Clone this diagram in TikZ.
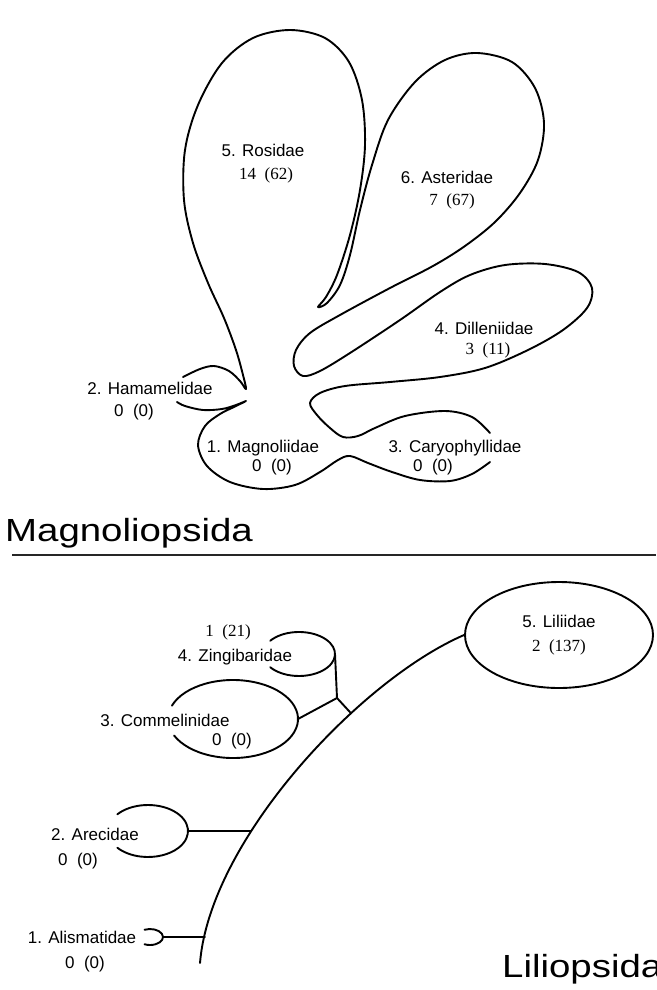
\documentclass[tikz,border=0pt]{standalone}
\usepackage{fontspec}
\setmainfont{Liberation Sans}
\newfontfamily\numfont{Liberation Serif}
\usepackage{graphicx}
\usetikzlibrary{shapes.geometric}
\begin{document}
\begin{tikzpicture}[x=1pt,y=-1pt,
  outline/.style={line width=1.9pt,line join=round,line cap=round},
  taxon/.style={font=\fontsize{17}{20}\selectfont,inner sep=0pt},
  tally/.style={font=\numfont\fontsize{17}{20}\selectfont,inner sep=0pt},
  zerotally/.style={font=\fontsize{17}{20}\selectfont,inner sep=0pt},
  classname/.style={font=\fontsize{32}{36}\selectfont,inner sep=0pt,anchor=base west}]
\useasboundingbox (0,0) rectangle (656,990);
\clip (0,0) rectangle (656,990);

% ---------------- Magnoliopsida ----------------
% Hamamelidae upper edge, Rosidae, Asteridae, Dilleniidae, Caryophyllidae upper edge
\draw[outline] plot[smooth,tension=0.55] coordinates {
  (183,377) (200,369) (214,366) (229,371) (240,381) (246,389)
  (243,375) (236,350) (224,318) (208,283) (193,243) (184,200) (185,150)
  (198,105) (222,63) (253,38) (290,30) (325,38) (349,62) (362,100)
  (365,145) (360,190) (350,235) (337,275) (326,297) (318,307)
  (327,303) (340,285) (350,255) (360,210) (372,165) (388,120) (415,82)
  (445,60) (477,53) (512,62) (535,88) (544,123) (538,160) (520,193)
  (495,222) (465,246) (433,266) (390,288) (340,315) (310,333) (296,350)
  (294,366) (303,376) (320,371) (350,353) (400,320) (440,292) (470,275)
  (505,265) (545,264) (578,272) (592,288) (587,308) (563,330) (528,350)
  (485,368) (440,377) (390,382) (345,386) (320,393) (310,403) (317,415)
  (330,428) (343,437) (358,436) (375,428) (405,416) (445,411) (472,417)
  (490,433)};
% Caryophyllidae lower edge, Magnoliidae, Hamamelidae lower edge
\draw[outline] plot[smooth,tension=0.55] coordinates {
  (490,462) (472,474) (450,481) (420,480) (392,472) (368,463) (350,456)
  (338,460) (320,472) (295,485) (263,489) (230,482) (207,466) (198,445)
  (205,426) (220,414) (234,407) (246,401)
  (236,405) (222,409) (203,410) (185,406) (177,402)};

\node[taxon] (ros) at (263,150) {5. Rosidae};
\node[tally] (rosn) at (266,175) {14\ \ (62)};
\node[taxon] (ast) at (447,177) {6. Asteridae};
\node[tally] (astn) at (452,201) {7\ \ (67)};
\node[taxon] (dil) at (484,328) {4. Dilleniidae};
\node[tally] (diln) at (488,350) {3\ \ (11)};
\node[taxon] (ham) at (150,388) {2. Hamamelidae};
\node[zerotally] (hamn) at (134,412) {0\ \ (0)};
\node[taxon] (mag) at (263,448) {1. Magnoliidae};
\node[zerotally] (magn) at (272,467) {0\ \ (0)};
\node[taxon] (car) at (455,448) {3. Caryophyllidae};
\node[zerotally] (carn) at (433,467) {0\ \ (0)};

\node[classname] (magnoliopsida) at (5,541) {\scalebox{1.2}[1]{Magnoliopsida}};
\draw[line width=1.8pt,black!85] (12,555) coordinate (rulel) -- (656,555) coordinate (ruler);

% ---------------- Liliopsida ----------------
\node[ellipse,draw,line width=1.9pt,minimum width=188pt,minimum height=106pt,
      inner sep=0pt,align=center,font=\fontsize{17}{24}\selectfont] (lil) at (559,635)
  {5. Liliidae\\{\numfont 2\ \ (137)}};

% main stem of the class
\draw[outline] (200,963) .. controls (210,840) and (360,680) .. (lil.west)
  coordinate[pos=0.08] (jA) coordinate[pos=0.337] (jR) coordinate[pos=0.665] (jC);

% subclass loops, open towards their labels
\coordinate (zc) at (299,654);
\draw[outline] (zc) ++(-143:36 and 22) arc[start angle=-143,end angle=143,x radius=36,y radius=22];
\coordinate (zinR) at (335,654);
\coordinate (cc) at (233,719);
\draw[outline] (cc) ++(-160:65 and 39) arc[start angle=-160,end angle=155,x radius=65,y radius=39];
\coordinate (comR) at (298,719);
\coordinate (ac) at (148,831);
\draw[outline] (ac) ++(-140:40 and 26) arc[start angle=-140,end angle=140,x radius=40,y radius=26];
\coordinate (areR) at (188,831);
\coordinate (lc) at (150,937);
\draw[outline] (lc) ++(-115:13 and 8) arc[start angle=-115,end angle=115,x radius=13,y radius=8];
\coordinate (aliR) at (163,937);

% branches
\coordinate (jZ) at (337,698);
\draw[outline] (zinR) -- (jZ) -- (jC);
\draw[outline] (comR) -- (jZ);
\draw[outline] (areR) -- (areR -| jR);
\draw[outline] (aliR) -- (aliR -| jA);

\node[tally] (zinn) at (228,632) {1\ \ (21)};
\node[taxon] (zin) at (235,657) {4. Zingibaridae};
\node[taxon] (com) at (165,720) {3. Commelinidae};
\node[zerotally] (comn) at (232,741) {0\ \ (0)};
\node[taxon] (are) at (95,834) {2. Arecidae};
\node[zerotally] (aren) at (78,861) {0\ \ (0)};
\node[taxon] (ali) at (82,937) {1. Alismatidae};
\node[zerotally] (alin) at (85,964) {0\ \ (0)};

\node[classname] (liliopsida) at (502,977) {\scalebox{1.2}[1]{Liliopsida}};
\end{tikzpicture}
\end{document}
